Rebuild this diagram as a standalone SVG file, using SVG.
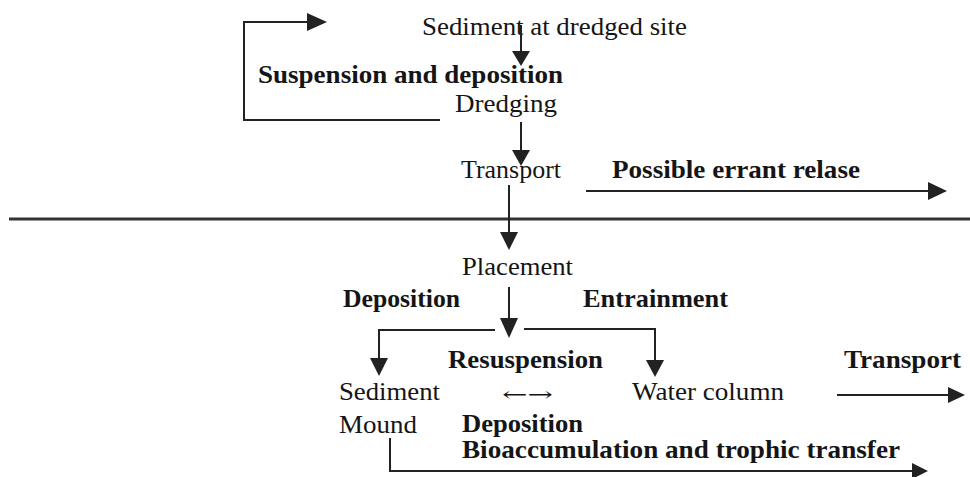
<svg xmlns="http://www.w3.org/2000/svg" width="970" height="477" viewBox="0 0 970 477">
<style>
  text { font-family: "Liberation Serif", "Times New Roman", serif; font-size: 26px; fill: #151515; }
  .b { font-weight: bold; font-size: 25px; }
  .ar { font-family: "DejaVu Serif", "DejaVu Sans", serif; font-size: 20px; }
  .ln { stroke: #222; stroke-width: 2; fill: none; }
  .hd { fill: #222; stroke: none; }
</style>
<rect width="970" height="477" fill="#fff"/>
<g id="nodes">
  <g id="n-sediment-site"><text x="422" y="35" textLength="265" lengthAdjust="spacingAndGlyphs">Sediment at dredged site</text></g>
  <g id="l-suspension"><text class="b" x="258" y="83" textLength="305" lengthAdjust="spacingAndGlyphs">Suspension and deposition</text></g>
  <g id="n-dredging"><text x="455" y="112" textLength="102" lengthAdjust="spacingAndGlyphs">Dredging</text></g>
  <g id="n-transport"><text x="461" y="178" textLength="100" lengthAdjust="spacingAndGlyphs">Transport</text></g>
  <g id="l-errant"><text class="b" x="612" y="178" textLength="248" lengthAdjust="spacingAndGlyphs">Possible errant relase</text></g>
  <g id="n-placement"><text x="462" y="275" textLength="111" lengthAdjust="spacingAndGlyphs">Placement</text></g>
  <g id="l-deposition1"><text class="b" x="343" y="307" textLength="117" lengthAdjust="spacingAndGlyphs">Deposition</text></g>
  <g id="l-entrainment"><text class="b" x="583" y="307" textLength="145" lengthAdjust="spacingAndGlyphs">Entrainment</text></g>
  <g id="l-resuspension"><text class="b" x="448" y="368" textLength="155" lengthAdjust="spacingAndGlyphs">Resuspension</text></g>
  <g id="l-transport2"><text class="b" x="844" y="368" textLength="117" lengthAdjust="spacingAndGlyphs">Transport</text></g>
  <g id="n-mound"><text x="339" y="400" textLength="101" lengthAdjust="spacingAndGlyphs">Sediment</text><text x="339" y="433" textLength="78" lengthAdjust="spacingAndGlyphs">Mound</text></g>
  <g id="l-exchange"><text class="ar" x="502" y="401" textLength="51" lengthAdjust="spacingAndGlyphs">←→</text></g>
  <g id="n-water"><text x="632" y="400" textLength="152" lengthAdjust="spacingAndGlyphs">Water column</text></g>
  <g id="l-deposition2"><text class="b" x="462" y="432" textLength="121" lengthAdjust="spacingAndGlyphs">Deposition</text></g>
  <g id="l-bioacc"><text class="b" x="462" y="458" textLength="438" lengthAdjust="spacingAndGlyphs">Bioaccumulation and trophic transfer</text></g>
</g>
<g id="connectors">
  <line x1="9" y1="219" x2="970" y2="219" stroke="#333" stroke-width="3"/>
  <polyline class="ln" points="440,120 244,120 244,22 310,22"/>
  <polygon class="hd" points="307,13 327,22 307,31"/>
  <line class="ln" x1="521" y1="25" x2="521" y2="54"/>
  <polygon class="hd" points="512,51 530,51 521,66"/>
  <line class="ln" x1="521" y1="122" x2="521" y2="153"/>
  <polygon class="hd" points="512,150 530,150 521,166"/>
  <line class="ln" x1="586" y1="191" x2="932" y2="191"/>
  <polygon class="hd" points="928,182 947,191 928,200"/>
  <line class="ln" x1="509" y1="185" x2="509" y2="235"/>
  <polygon class="hd" points="500,232 518,232 509,250"/>
  <line class="ln" x1="509" y1="287" x2="509" y2="320"/>
  <polygon class="hd" points="500,318 518,318 509,338"/>
  <polyline class="ln" points="495,330 379,330 379,360"/>
  <polygon class="hd" points="370,358 388,358 379,376"/>
  <polyline class="ln" points="524,329 655,329 655,362"/>
  <polygon class="hd" points="646,360 664,360 655,377"/>
  <line class="ln" x1="837" y1="395" x2="951" y2="395"/>
  <polygon class="hd" points="948,387 965,395 948,403"/>
  <polyline class="ln" points="390,438 390,471 915,471"/>
  <polygon class="hd" points="912,463 928,471 912,479"/>
</g>
</svg>
